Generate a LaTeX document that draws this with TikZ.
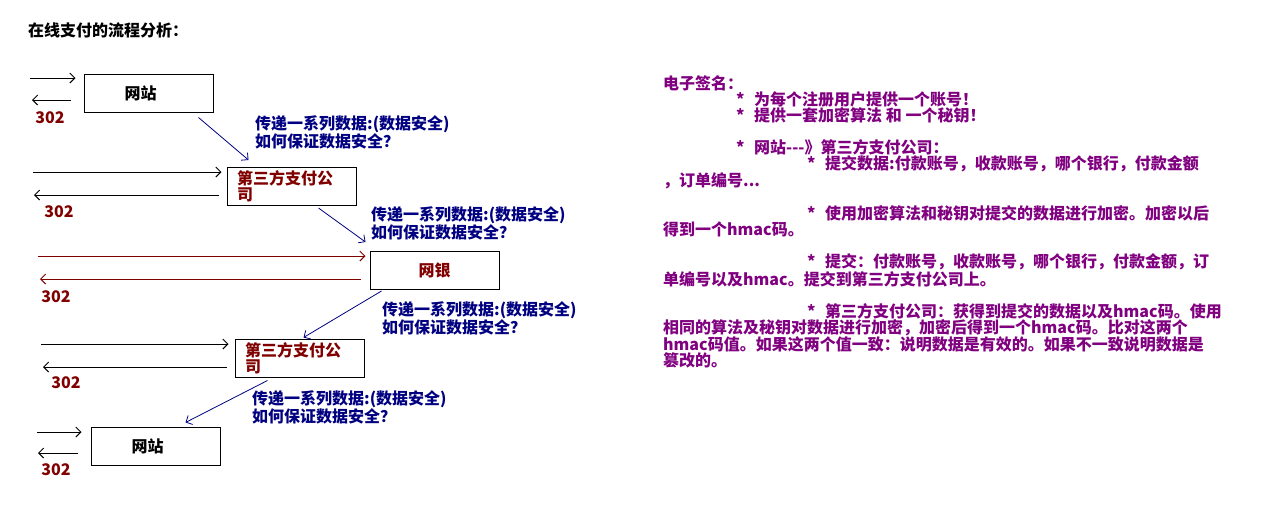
\documentclass[tikz,border=0pt]{standalone}
\usepackage{fontspec}
\setmainfont{Noto Sans CJK SC}
\usetikzlibrary{arrows.meta}
\definecolor{ppnavy}{HTML}{000080}
\definecolor{ppred}{HTML}{800000}
\definecolor{pppurple}{HTML}{800080}
\newcommand{\starmark}{\makebox[18pt][l]{*}}

\begin{document}
\begin{tikzpicture}[x=1pt,y=-1pt,
  every node/.style={font=\fontsize{16}{16}\selectfont\bfseries,inner sep=0pt},
  box/.style={draw=black,line width=1pt,minimum width=129pt,minimum height=38pt},
  twoline/.style={box,text width=109pt,align=left,inner xsep=10pt,text=ppred},
  arr/.style={-{Straight Barb[length=5pt,width=10pt]},line width=1pt},
  redarr/.style={arr,ppred},
  flow/.style={arr,ppnavy,line width=0.8pt},
  lab/.style={ppnavy,align=left,anchor=west},
  num/.style={ppred},
  note/.style={pppurple,align=left,anchor=north west}]
\useasboundingbox (0,0) rectangle (1283,509);
\node[anchor=west] (title) at (28,30) {在线支付的流程分析：};

\node[box] (site1) at (148.5,93) {网站\hspace*{1em}};
\node[twoline] (pay1) at (291.5,186.5) {第三方支付公\\司};
\node[box,text=ppred] (bank) at (434.5,270.5) {网银};
\node[twoline] (pay2) at (299.5,358) {第三方支付公\\司};
\node[box] (site2) at (155.5,446) {网站\hspace*{1em}};

\coordinate (in1) at (30,78);
\coordinate (out1) at (32,100);
\coordinate (in2) at (33,172);
\coordinate (out2) at (34,195);
\coordinate (in3) at (38,256);
\coordinate (out3) at (40,279);
\coordinate (in4) at (41,344);
\coordinate (out4) at (43,367);
\coordinate (in5) at (37,432);
\coordinate (out5) at (38,453);

\draw[arr,shorten >=8pt] (in1) -- (in1 -| site1.west);
\draw[arr,shorten <=13pt] (out1 -| site1.west) -- (out1);
\draw[arr,shorten >=5pt] (in2) -- (in2 -| pay1.west);
\draw[arr,shorten <=8pt] (out2 -| pay1.west) -- (out2);
\draw[redarr,shorten >=4pt] (in3) -- (in3 -| bank.west);
\draw[redarr,shorten <=9pt] (out3 -| bank.west) -- (out3);
\draw[arr,shorten >=6pt] (in4) -- (in4 -| pay2.west);
\draw[arr,shorten <=8pt] (out4 -| pay2.west) -- (out4);
\draw[arr,shorten >=9pt] (in5) -- (in5 -| site2.west);
\draw[arr,shorten <=13pt] (out5 -| site2.west) -- (out5);

\node[num] (r1) at (50,118) {302};
\node[num] (r2) at (59,212) {302};
\node[num] (r3) at (56,297) {302};
\node[num] (r4) at (66,383) {302};
\node[num] (r5) at (56,470) {302};

\draw[flow] ([xshift=-15pt,yshift=-5pt]site1.south east) -- ([xshift=22pt,yshift=7pt]pay1.north west);
\draw[flow] ([xshift=-38pt,yshift=-2pt]pay1.south east) -- ([xshift=-4pt,yshift=9pt]bank.north west);
\draw[flow] ([xshift=12pt,yshift=-1pt]bank.south west) -- ([xshift=4pt,yshift=1pt]pay2.north);
\draw[flow] ([xshift=33pt,yshift=-3pt]pay2.south west) -- ([xshift=30pt,yshift=4pt]site2.north);

\node[lab] (q1) at (255,132) {传递一系列数据:(数据安全)\\如何保证数据安全？};
\node[lab] (q2) at (371,223) {传递一系列数据:(数据安全)\\如何保证数据安全？};
\node[lab] (q3) at (382,318) {传递一系列数据:(数据安全)\\如何保证数据安全？};
\node[lab] (q4) at (252,407) {传递一系列数据:(数据安全)\\如何保证数据安全？};

\node[note] (sig) at (663,75) {电子签名：\\
\hspace*{73pt}\starmark 为每个注册用户提供一个账号！\\
\hspace*{73pt}\starmark 提供一套加密算法 和 一个秘钥！\\[16pt]
\hspace*{73pt}\starmark 网站-{}-{}-》第三方支付公司：\\
\hspace*{144pt}\starmark 提交数据:付款账号，收款账号，哪个银行，付款金额\\
，订单编号...\\[16pt]
\hspace*{144pt}\starmark 使用加密算法和秘钥对提交的数据进行加密。加密以后\\
得到一个hmac码。\\[16pt]
\hspace*{144pt}\starmark 提交：付款账号，收款账号，哪个银行，付款金额，订\\
单编号以及hmac。提交到第三方支付公司上。\\[16pt]
\hspace*{144pt}\starmark 第三方支付公司：获得到提交的数据以及hmac码。使用\\
相同的算法及秘钥对数据进行加密，加密后得到一个hmac码。比对这两个\\
hmac码值。如果这两个值一致：说明数据是有效的。如果不一致说明数据是\\
篡改的。};
\end{tikzpicture}
\end{document}
